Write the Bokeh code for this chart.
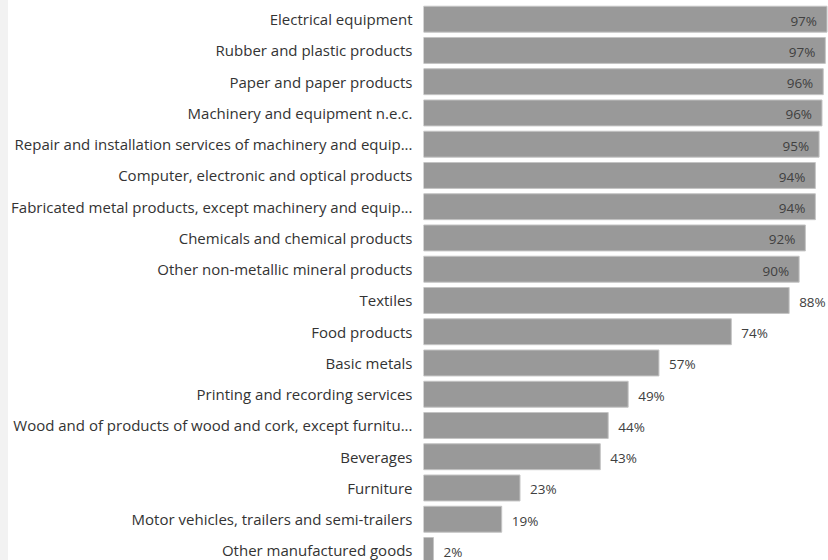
from bokeh.plotting import figure
from bokeh.models import ColumnDataSource, Range1d, FixedTicker, Spacer
from bokeh.layouts import row
from bokeh.core.properties import value
from bokeh.embed import file_html
from bokeh.resources import INLINE

categories = [
    "Electrical equipment",
    "Rubber and plastic products",
    "Paper and paper products",
    "Machinery and equipment n.e.c.",
    "Repair and installation services of machinery and equip...",
    "Computer, electronic and optical products",
    "Fabricated metal products, except machinery and equip...",
    "Chemicals and chemical products",
    "Other non-metallic mineral products",
    "Textiles",
    "Food products",
    "Basic metals",
    "Printing and recording services",
    "Wood and of products of wood and cork, except furnitu...",
    "Beverages",
    "Furniture",
    "Motor vehicles, trailers and semi-trailers",
    "Other manufactured goods",
]
values = [97.0, 96.6, 96.1, 95.8, 95.1, 94.2, 94.2, 91.8, 90.3, 87.9,
          74.0, 56.6, 49.2, 44.4, 42.5, 23.2, 18.8, 2.4]
labels = ["97%", "97%", "96%", "96%", "95%", "94%", "94%", "92%", "90%", "88%",
          "74%", "57%", "49%", "44%", "43%", "23%", "19%", "2%"]

FONT = "Open Sans"

idx = list(range(len(categories)))
inside = [v >= 90 for v in values]
src = ColumnDataSource(dict(
    y=idx,
    v=values,
    lab=labels,
    align=["right" if i else "left" for i in inside],
    xoff=[-10 if i else 10 for i in inside],
))

p = figure(
    width=820, height=560,
    x_range=Range1d(0, 97.36),
    y_range=Range1d(len(categories) - 1 + 0.32, -0.598),
    output_backend="svg", toolbar_location=None,
    min_border_left=415, min_border_right=0, min_border_top=0, min_border_bottom=0,
)
p.hbar(y="y", right="v", left=0, height=0.83, source=src,
       fill_color="#999999", line_color="#c4c4c4", line_width=1)
p.text(x="v", y="y", text="lab", source=src, text_align="align",
       text_baseline="middle", x_offset="xoff", y_offset=1.5,
       text_font=value(FONT), text_font_size="13.5px", text_color="#404040")

p.xaxis.visible = False
p.xgrid.visible = False
p.ygrid.visible = False
p.outline_line_color = None
p.background_fill_color = "white"
p.border_fill_color = "white"

ax = p.yaxis[0]
ax.ticker = FixedTicker(ticks=idx)
ax.major_label_overrides = {i: c for i, c in enumerate(categories)}
ax.axis_line_color = None
ax.major_tick_line_color = None
ax.minor_tick_line_color = None
ax.major_label_standoff = 5
ax.major_label_text_font = FONT
ax.major_label_text_font_size = "15px"
ax.major_label_text_color = "#333333"

strip = Spacer(width=8, height=560, styles={"background-color": "#f2f2f2"})
layout = row(strip, p, spacing=0)

open("out.html", "w").write(file_html(layout, INLINE))
